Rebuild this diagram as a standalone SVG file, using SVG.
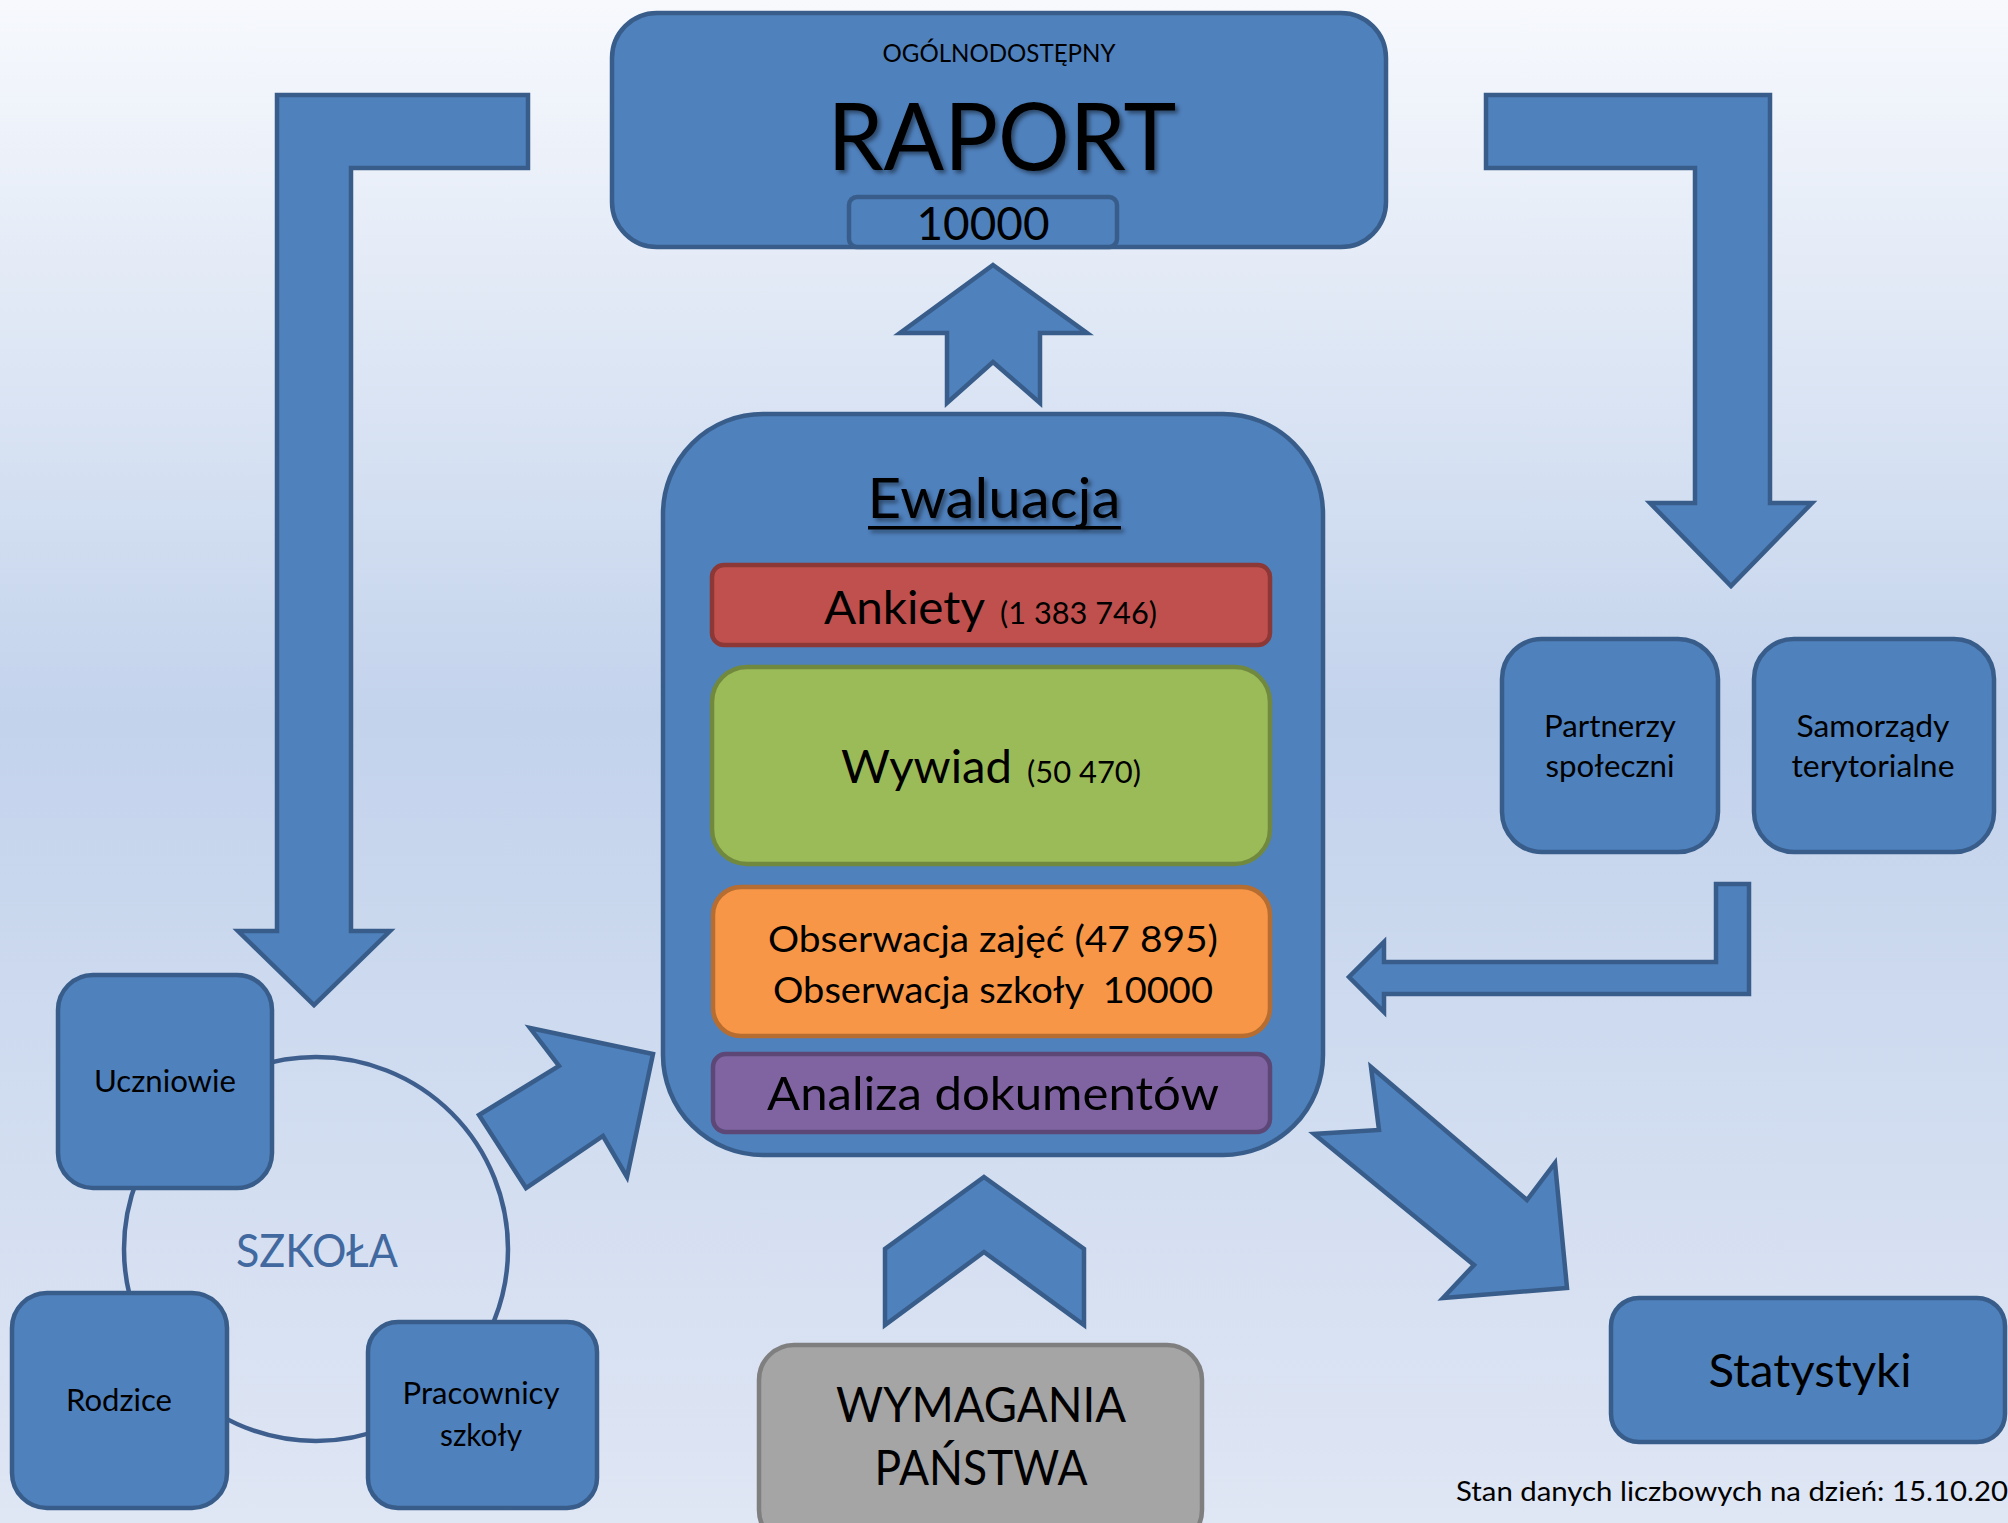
<svg xmlns="http://www.w3.org/2000/svg" width="2008" height="1523" viewBox="0 0 2008 1523">
<defs>
<linearGradient id="bg" x1="0" y1="0" x2="0" y2="1">
<stop offset="0" stop-color="#F7F9FD"/>
<stop offset="0.47" stop-color="#C3D3EC"/>
<stop offset="1" stop-color="#DFE6F4"/>
</linearGradient>
<filter id="sh" x="-10%" y="-10%" width="130%" height="140%">
<feDropShadow dx="3" dy="3" stdDeviation="2" flood-color="#000" flood-opacity="0.45"/>
</filter>
</defs>
<style>
.box{fill:#4F81BD;stroke:#385D8A;stroke-width:4.5}
.arr{fill:#4F81BD;stroke:#385D8A;stroke-width:4.5;stroke-linejoin:miter}
.t{font-family:Lato,"Open Sans","Liberation Sans",sans-serif;fill:#000}
.c{text-anchor:middle}
.pre{white-space:pre}
</style>
<rect x="0" y="0" width="2008" height="1523" fill="url(#bg)"/>

<g id="connectors">
<polygon class="arr" points="277,95 528,95 528,168 351,168 351,931 390,931 314,1005 238,931 277,931"/>
<polygon class="arr" points="1486,95 1770,95 1770,503 1812,503 1731,586 1650,503 1695,503 1695,168 1486,168"/>
<polygon class="arr" points="993,265 1087,333 1040,333 1040,403 993,362 947,403 947,333 900,333"/>
<polygon class="arr" points="1716,884 1749,884 1749,994 1384,994 1384,1012 1349,977 1384,942 1384,962 1716,962"/>
<polygon class="arr" points="530,1028 653,1054 627,1177 603,1136 526,1188 479,1115 559,1066"/>
<polygon class="arr" points="1371,1067 1527,1200 1555,1163 1567,1288 1443,1298 1474,1265 1314,1134 1379,1130"/>
<polygon class="arr" points="984,1177 1084,1249 1084,1325 984,1252 885,1325 885,1249"/>
</g>

<g id="szkola">
<circle cx="316" cy="1249" r="192" fill="none" stroke="#3E5F8E" stroke-width="4.5"/>
<text class="t c" x="317" y="1267" font-size="47" style="fill:#4169A0" textLength="162" lengthAdjust="spacingAndGlyphs">SZKOŁA</text>
</g>

<g id="raport">
<rect class="box" x="612" y="13" width="774" height="234" rx="45"/>
<text class="t c" x="999" y="62" font-size="25" textLength="233" lengthAdjust="spacingAndGlyphs">OGÓLNODOSTĘPNY</text>
<text class="t c" x="1002" y="170" font-size="94" textLength="349" lengthAdjust="spacingAndGlyphs" filter="url(#sh)">RAPORT</text>
</g>
<g id="raport-count">
<rect class="box" x="849" y="197" width="268" height="50" rx="8"/>
<text class="t c" x="983" y="240" font-size="47" textLength="133" lengthAdjust="spacingAndGlyphs">10000</text>
</g>

<g id="ewaluacja">
<rect class="box" x="663" y="414" width="660" height="741" rx="100"/>
<g filter="url(#sh)">
<text class="t c" x="994" y="518" font-size="56" textLength="253" lengthAdjust="spacingAndGlyphs">Ewaluacja</text>
<rect x="868" y="526" width="253" height="3.5" fill="#000"/>
</g>
</g>

<g id="ankiety">
<rect x="712" y="565" width="558" height="80" rx="12" fill="#C0504D" stroke="#8C3836" stroke-width="4.5"/>
<text class="t" x="824" y="624" font-size="47" textLength="161" lengthAdjust="spacingAndGlyphs">Ankiety</text>
<text class="t" x="1000" y="624" font-size="31" textLength="157" lengthAdjust="spacingAndGlyphs">(1 383 746)</text>
</g>

<g id="wywiad">
<rect x="712" y="667" width="558" height="197" rx="35" fill="#9BBB59" stroke="#71893F" stroke-width="4.5"/>
<text class="t" x="841" y="783" font-size="47" textLength="171" lengthAdjust="spacingAndGlyphs">Wywiad</text>
<text class="t" x="1027" y="783" font-size="31" textLength="114" lengthAdjust="spacingAndGlyphs">(50 470)</text>
</g>

<g id="obserwacja">
<rect x="713" y="887" width="557" height="149" rx="28" fill="#F79646" stroke="#B66D31" stroke-width="4.5"/>
<text class="t c" x="993" y="952" font-size="36" textLength="450" lengthAdjust="spacingAndGlyphs">Obserwacja zajęć (47 895)</text>
<text class="t c pre" x="993" y="1003" font-size="36" textLength="440" lengthAdjust="spacingAndGlyphs">Obserwacja szkoły  10000</text>
</g>

<g id="analiza">
<rect x="713" y="1054" width="557" height="78" rx="13" fill="#8064A2" stroke="#5C4776" stroke-width="4.5"/>
<text class="t c" x="993" y="1110" font-size="47" textLength="452" lengthAdjust="spacingAndGlyphs">Analiza dokumentów</text>
</g>

<g id="partnerzy">
<rect class="box" x="1502" y="639" width="216" height="213" rx="40"/>
<text class="t c" x="1610" y="737" font-size="30" textLength="132" lengthAdjust="spacingAndGlyphs">Partnerzy</text>
<text class="t c" x="1610" y="777" font-size="30" textLength="129" lengthAdjust="spacingAndGlyphs">społeczni</text>
</g>

<g id="samorzady">
<rect class="box" x="1754" y="639" width="240" height="213" rx="40"/>
<text class="t c" x="1873" y="737" font-size="30" textLength="153" lengthAdjust="spacingAndGlyphs">Samorządy</text>
<text class="t c" x="1873" y="777" font-size="30" textLength="163" lengthAdjust="spacingAndGlyphs">terytorialne</text>
</g>

<g id="uczniowie">
<rect class="box" x="58" y="975" width="214" height="213" rx="35"/>
<text class="t c" x="165" y="1092" font-size="30" textLength="142" lengthAdjust="spacingAndGlyphs">Uczniowie</text>
</g>

<g id="rodzice">
<rect class="box" x="12" y="1293" width="215" height="215" rx="35"/>
<text class="t c" x="119" y="1411" font-size="30" textLength="106" lengthAdjust="spacingAndGlyphs">Rodzice</text>
</g>

<g id="pracownicy">
<rect class="box" x="368" y="1322" width="229" height="186" rx="30"/>
<text class="t c" x="481" y="1404" font-size="30" textLength="157" lengthAdjust="spacingAndGlyphs">Pracownicy</text>
<text class="t c" x="481" y="1446" font-size="30" textLength="82" lengthAdjust="spacingAndGlyphs">szkoły</text>
</g>

<g id="wymagania">
<rect x="759" y="1345" width="443" height="200" rx="35" fill="#A5A5A5" stroke="#7F7F7F" stroke-width="4.5"/>
<text class="t c" x="981" y="1422" font-size="48" textLength="290" lengthAdjust="spacingAndGlyphs">WYMAGANIA</text>
<text class="t c" x="981" y="1485" font-size="48" textLength="213" lengthAdjust="spacingAndGlyphs">PAŃSTWA</text>
</g>

<g id="statystyki">
<rect class="box" x="1611" y="1298" width="394" height="144" rx="28"/>
<text class="t c" x="1810" y="1387" font-size="47" textLength="203" lengthAdjust="spacingAndGlyphs">Statystyki</text>
</g>

<g id="note">
<text class="t" x="1456" y="1501" font-size="26" textLength="552" lengthAdjust="spacingAndGlyphs">Stan danych liczbowych na dzień: 15.10.20</text>
</g>
</svg>
